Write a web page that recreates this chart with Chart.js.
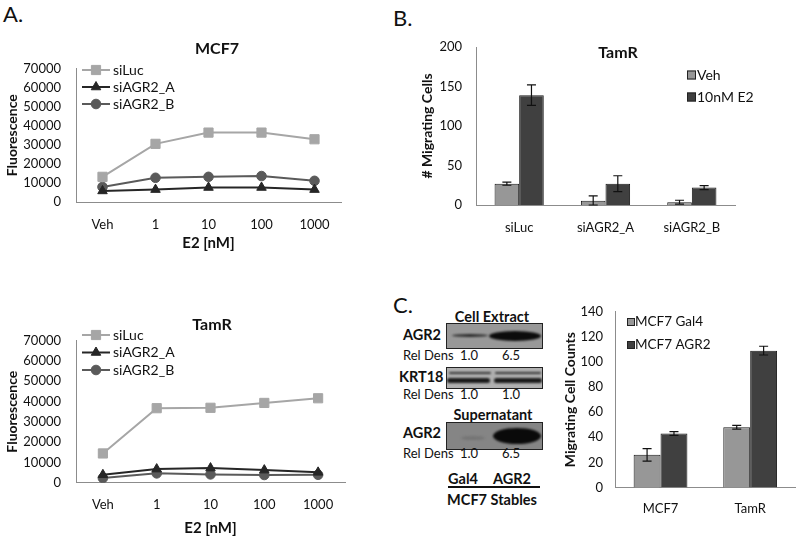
<!DOCTYPE html>
<html>
<head>
<meta charset="utf-8">
<script src="https://cdn.jsdelivr.net/npm/chart.js@4.4.0/dist/chart.umd.min.js"></script>
<style>
  body { margin: 0; background: #fff; width: 800px; height: 540px; position: relative; overflow: hidden; font-family: Lato, "Open Sans", sans-serif; color: #111; }
  canvas { position: absolute; }
  .t { position: absolute; white-space: nowrap; line-height: 1; }
  .c { transform: translate(-50%, -50%); }
  .l { transform: translate(0, -50%); }
  .b { font-weight: bold; font-size: 14.5px; }
  .s { font-size: 13px; }
  .letter { font-size: 22px; }
  .blot { position: absolute; border: 1px solid #222; overflow: hidden; }
  .band { position: absolute; border-radius: 50%; filter: blur(1px); }
</style>
</head>
<body>
<div class="t l letter" style="left:3px;top:14px">A.</div>
<div class="t l letter" style="left:393px;top:18px">B.</div>
<div class="t l letter" style="left:393px;top:305px">C.</div>

<canvas id="cA1" width="350" height="232" style="left:0;top:30px"></canvas>
<canvas id="cA2" width="355" height="240" style="left:0;top:300px"></canvas>
<canvas id="cB" width="400" height="250" style="left:400px;top:0"></canvas>
<canvas id="cC" width="245" height="250" style="left:555px;top:290px"></canvas>

<!-- western blot panel -->
<div class="t c b" style="left:492px;top:317px">Cell Extract</div>
<div class="t l b" style="left:403px;top:335px">AGR2</div>
<div class="blot" style="left:446px;top:323px;width:95px;height:24px;background:#989898">
  <div class="band" style="left:5px;top:10px;width:36px;height:3px;background:#2a2a2a"></div>
  <div class="band" style="left:42px;top:7px;width:52px;height:10px;background:#0c0c0c"></div>
</div>
<div class="t l s" style="left:403px;top:355px">Rel Dens</div>
<div class="t c s" style="left:469px;top:355px">1.0</div>
<div class="t c s" style="left:511px;top:355px">6.5</div>

<div class="t l b" style="left:399px;top:377px">KRT18</div>
<div class="blot" style="left:446px;top:367px;width:95px;height:20px;background:#b0b0b0">
  <div class="band" style="left:2px;top:4px;width:42px;height:2px;background:#333;border-radius:2px"></div>
  <div class="band" style="left:48px;top:4px;width:46px;height:2px;background:#333;border-radius:2px"></div>
  <div class="band" style="left:0px;top:10px;width:43px;height:5px;background:#1a1a1a;border-radius:3px"></div>
  <div class="band" style="left:47px;top:10px;width:48px;height:5px;background:#1a1a1a;border-radius:3px"></div>
</div>
<div class="t l s" style="left:403px;top:394px">Rel Dens</div>
<div class="t c s" style="left:469px;top:394px">1.0</div>
<div class="t c s" style="left:511px;top:394px">1.0</div>

<div class="t c b" style="left:493px;top:415px">Supernatant</div>
<div class="t l b" style="left:403px;top:433px">AGR2</div>
<div class="blot" style="left:446px;top:422px;width:95px;height:26px;background:#858585">
  <div class="band" style="left:14px;top:13px;width:24px;height:4px;background:#757575"></div>
  <div class="band" style="left:46px;top:5px;width:48px;height:16px;background:#0a0a0a"></div>
</div>
<div class="t l s" style="left:403px;top:453px">Rel Dens</div>
<div class="t c s" style="left:469px;top:453px">1.0</div>
<div class="t c s" style="left:511px;top:453px">6.5</div>

<div class="t c b" style="left:463px;top:479px">Gal4</div>
<div class="t c b" style="left:512px;top:479px">AGR2</div>
<div style="position:absolute;left:448px;top:486px;width:92px;height:2px;background:#111"></div>
<div class="t c b" style="left:492px;top:500px">MCF7 Stables</div>

<script>
// ---- data ----
const doseLabels = ['Veh', '1', '10', '100', '1000'];
const mcf7SiLuc = [13200, 30500, 36400, 36400, 32900];
const mcf7SiAGR2A = [5800, 6500, 7600, 7600, 6500];
const mcf7SiAGR2B = [7900, 12700, 13200, 13600, 11100];
const tamrSiLuc = [14400, 36700, 36900, 39300, 41600];
const tamrSiAGR2A = [3900, 6700, 7200, 6200, 5100];
const tamrSiAGR2B = [2300, 4600, 4100, 3800, 3900];

const siGroups = ['siLuc', 'siAGR2_A', 'siAGR2_B'];
const migVeh = [27, 5.5, 3.5];
const migVehErr = [2, 6, 2.5];
const migE2 = [139, 27, 22];
const migE2Err = [13, 10, 2.5];

const stableGroups = ['MCF7', 'TamR'];
const gal4Counts = [26, 48];
const gal4Err = [5, 1.5];
const agr2Counts = [43, 109];
const agr2Err = [1.5, 3.5];

const FONT = 'Lato, "Open Sans", sans-serif';
Chart.defaults.font.family = FONT;
Chart.defaults.color = '#111';

function drawMarker(ctx, style, x, y, r, color) {
  ctx.fillStyle = color;
  ctx.strokeStyle = color;
  ctx.lineWidth = 1;
  ctx.beginPath();
  if (style === 'rect') {
    const h = r * Math.SQRT1_2;
    ctx.rect(x - h, y - h, 2 * h, 2 * h);
  } else if (style === 'triangle') {
    ctx.moveTo(x, y - r);
    ctx.lineTo(x - r * 0.866, y + r * 0.5);
    ctx.lineTo(x + r * 0.866, y + r * 0.5);
    ctx.closePath();
  } else {
    ctx.arc(x, y, r, 0, Math.PI * 2);
  }
  ctx.fill();
  ctx.stroke();
}

const panelTitle = {
  id: 'panelTitle',
  afterDraw(chart, args, opts) {
    const ctx = chart.ctx;
    ctx.save();
    ctx.font = 'bold 16px ' + FONT;
    ctx.fillStyle = '#111';
    ctx.textAlign = 'center';
    ctx.textBaseline = 'middle';
    ctx.fillText(opts.text, opts.x, opts.y);
    ctx.restore();
  }
};

const insetLegend = {
  id: 'insetLegend',
  afterDraw(chart, args, opts) {
    const ctx = chart.ctx;
    chart.data.datasets.forEach((ds, i) => {
      const y = opts.y + i * opts.row;
      ctx.save();
      if (opts.kind === 'line') {
        ctx.strokeStyle = ds.borderColor;
        ctx.lineWidth = ds.borderWidth;
        ctx.beginPath();
        ctx.moveTo(opts.x, y);
        ctx.lineTo(opts.x + opts.len, y);
        ctx.stroke();
        drawMarker(ctx, ds.pointStyle, opts.x + opts.len / 2, y, ds.pointRadius, ds.borderColor);
      } else {
        ctx.fillStyle = ds.backgroundColor;
        ctx.fillRect(opts.x, y - opts.box / 2, opts.box, opts.box);
        ctx.strokeStyle = '#222';
        ctx.lineWidth = 1;
        ctx.strokeRect(opts.x + 0.5, y - opts.box / 2 + 0.5, opts.box - 1, opts.box - 1);
      }
      ctx.font = opts.size + 'px ' + FONT;
      ctx.fillStyle = '#111';
      ctx.textAlign = 'left';
      ctx.textBaseline = 'middle';
      ctx.fillText(ds.label, opts.textX, y);
      ctx.restore();
    });
  }
};

const errorBars = {
  id: 'errorBars',
  afterDatasetsDraw(chart) {
    const ctx = chart.ctx;
    const ys = chart.scales.y;
    chart.data.datasets.forEach((ds, i) => {
      const meta = chart.getDatasetMeta(i);
      meta.data.forEach((bar, j) => {
        const v = ds.data[j], e = ds.errors[j];
        const top = ys.getPixelForValue(v + e);
        const bot = ys.getPixelForValue(Math.max(v - e, 0));
        ctx.save();
        ctx.strokeStyle = '#111';
        ctx.lineWidth = 1.2;
        ctx.beginPath();
        ctx.moveTo(bar.x, top); ctx.lineTo(bar.x, bot);
        ctx.moveTo(bar.x - 4.5, top); ctx.lineTo(bar.x + 4.5, top);
        ctx.moveTo(bar.x - 4.5, bot); ctx.lineTo(bar.x + 4.5, bot);
        ctx.stroke();
        ctx.restore();
      });
    });
  }
};

function yScale(max, step, width, title, titlePad, tickPad) {
  return {
    min: 0, max: max,
    ticks: { stepSize: step, padding: tickPad, font: { size: 13 }, color: '#111', callback: v => String(v) },
    grid: { display: false, drawTicks: false },
    border: { color: '#8c8c8c', width: 1 },
    title: { display: true, text: title, font: { size: 14, weight: 'bold' }, color: '#111', padding: { top: titlePad, bottom: 0 } },
    afterFit: s => { s.width = width; }
  };
}

function xScale(height, tickPad, title, titlePadBottom) {
  return {
    offset: true,
    ticks: { padding: tickPad, font: { size: 13 }, color: '#111', maxRotation: 0, autoSkip: false },
    grid: { display: false, drawTicks: false },
    border: { color: '#8c8c8c', width: 1 },
    title: title
      ? { display: true, text: title, font: { size: 15, weight: 'bold' }, color: '#111', padding: { top: 0, bottom: titlePadBottom } }
      : { display: false },
    afterFit: s => { s.height = height; }
  };
}

function lineSets(luc, a, b) {
  return [
    { label: 'siLuc', data: luc, borderColor: '#a6a6a6', backgroundColor: '#a6a6a6', borderWidth: 2,
      pointStyle: 'rect', pointRadius: 6.5, pointBorderWidth: 1, tension: 0 },
    { label: 'siAGR2_A', data: a, borderColor: '#262626', backgroundColor: '#262626', borderWidth: 2,
      pointStyle: 'triangle', pointRadius: 5.5, pointBorderWidth: 1, tension: 0 },
    { label: 'siAGR2_B', data: b, borderColor: '#5a5a5a', backgroundColor: '#5a5a5a', borderWidth: 2,
      pointStyle: 'circle', pointRadius: 4.8, pointBorderWidth: 1, tension: 0 }
  ];
}

function baseOptions(padding) {
  return {
    responsive: false,
    animation: false,
    layout: { padding: padding },
    events: []
  };
}

// Panel A, MCF7
new Chart(document.getElementById('cA1'), {
  type: 'line',
  data: { labels: doseLabels, datasets: lineSets(mcf7SiLuc, mcf7SiAGR2A, mcf7SiAGR2B) },
  options: Object.assign(baseOptions({ top: 38.5, left: 0, right: 9, bottom: 0 }), {
    scales: {
      x: xScale(60, 15.2, 'E2 [nM]', 10),
      y: yScale(70000, 10000, 76, 'Fluorescence', 4, 15)
    },
    plugins: {
      legend: { display: false }, tooltip: { enabled: false },
      panelTitle: { text: 'MCF7', x: 217, y: 19 },
      insetLegend: { kind: 'line', x: 82, len: 28, textX: 113, y: 40, row: 17, size: 14 }
    }
  }),
  plugins: [panelTitle, insetLegend]
});

// Panel A, TamR
new Chart(document.getElementById('cA2'), {
  type: 'line',
  data: { labels: doseLabels, datasets: lineSets(tamrSiLuc, tamrSiAGR2A, tamrSiAGR2B) },
  options: Object.assign(baseOptions({ top: 40.6, left: 0, right: 10, bottom: 0 }), {
    scales: {
      x: xScale(57.3, 14.5, 'E2 [nM]', 3),
      y: yScale(70000, 10000, 76, 'Fluorescence', 4, 15)
    },
    plugins: {
      legend: { display: false }, tooltip: { enabled: false },
      panelTitle: { text: 'TamR', x: 212, y: 25 },
      insetLegend: { kind: 'line', x: 82, len: 28, textX: 113, y: 35, row: 17.5, size: 14 }
    }
  }),
  plugins: [panelTitle, insetLegend]
});

// Panel B
new Chart(document.getElementById('cB'), {
  type: 'bar',
  data: {
    labels: siGroups,
    datasets: [
      { label: 'Veh', data: migVeh, errors: migVehErr, backgroundColor: '#979797', borderColor: '#1a1a1a', borderWidth: 1 },
      { label: '10nM E2', data: migE2, errors: migE2Err, backgroundColor: '#404040', borderColor: '#1a1a1a', borderWidth: 1 }
    ]
  },
  options: Object.assign(baseOptions({ top: 47, left: 0, right: 65, bottom: 0 }), {
    datasets: { bar: { categoryPercentage: 0.57, barPercentage: 1 } },
    scales: {
      x: xScale(45, 15.2, null, 0),
      y: yScale(200, 50, 76, '# Migrating Cells', 18.6, 14)
    },
    plugins: {
      legend: { display: false }, tooltip: { enabled: false },
      panelTitle: { text: 'TamR', x: 218, y: 53 },
      insetLegend: { kind: 'box', x: 287, box: 9, textX: 297, y: 75, row: 22, size: 14 }
    }
  }),
  plugins: [errorBars, panelTitle, insetLegend]
});

// Panel C
new Chart(document.getElementById('cC'), {
  type: 'bar',
  data: {
    labels: stableGroups,
    datasets: [
      { label: 'MCF7 Gal4', data: gal4Counts, errors: gal4Err, backgroundColor: '#979797', borderColor: '#1a1a1a', borderWidth: 1 },
      { label: 'MCF7 AGR2', data: agr2Counts, errors: agr2Err, backgroundColor: '#404040', borderColor: '#1a1a1a', borderWidth: 1 }
    ]
  },
  options: Object.assign(baseOptions({ top: 21.7, left: 0, right: 5, bottom: 0 }), {
    datasets: { bar: { categoryPercentage: 0.6, barPercentage: 1 } },
    scales: {
      x: xScale(52.5, 13.7, null, 0),
      y: yScale(140, 20, 60.7, 'Migrating Cell Counts', 6.6, 12.7)
    },
    plugins: {
      legend: { display: false }, tooltip: { enabled: false },
      insetLegend: { kind: 'box', x: 72, box: 8, textX: 80, y: 32, row: 23, size: 13.5 }
    }
  }),
  plugins: [errorBars, insetLegend]
});
</script>
</body>
</html>
